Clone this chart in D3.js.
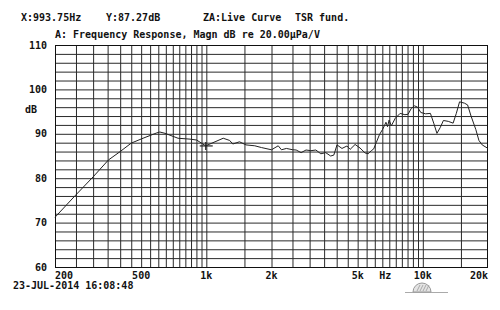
<!DOCTYPE html>
<html><head><meta charset="utf-8">
<script src="https://cdn.jsdelivr.net/npm/d3@7"></script>
<style>
html,body{margin:0;padding:0;background:#fff;}
text{font-family:"DejaVu Sans Mono","Liberation Mono",monospace;font-size:10px;fill:#111;}
</style></head>
<body>
<script>
// ---- data ----
const freq = [200, 247, 300, 353, 400, 450, 510, 590, 610, 645, 740, 841, 902, 949, 993, 1039, 1097, 1197, 1282, 1325, 1423, 1525, 1674, 1799, 2000, 2148, 2224, 2343, 2511, 2600, 2740, 2887, 3042, 3206, 3379, 3561, 3752, 3880, 4014, 4232, 4460, 4618, 4866, 5128, 5404, 5590, 5782, 5931, 6093, 6303, 6520, 6643, 6755, 6870, 6987, 7153, 7458, 7855, 8264, 8546, 8841, 9144, 9460, 9786, 10300, 10840, 11230, 11620, 12030, 12447, 13111, 13800, 14280, 14780, 15570, 16100, 16700, 17560, 18160, 18800, 20000];
const db = [71.2, 76.0, 80.3, 84.1, 86.0, 87.9, 89.0, 90.2, 90.4, 90.1, 89.0, 88.8, 88.6, 87.9, 87.3, 87.7, 88.2, 89.0, 88.5, 87.7, 88.2, 87.5, 87.3, 86.9, 86.4, 87.3, 86.4, 86.7, 86.4, 86.35, 85.75, 86.35, 86.2, 86.35, 85.5, 85.75, 85.0, 85.2, 87.5, 86.7, 87.25, 86.5, 87.6, 86.8, 85.7, 85.5, 86.2, 86.6, 88.0, 89.8, 91.0, 91.8, 92.6, 91.6, 93.1, 91.8, 93.5, 94.6, 94.3, 94.4, 95.7, 96.3, 96.0, 94.8, 94.5, 94.6, 92.4, 90.1, 91.4, 93.0, 92.8, 92.4, 94.6, 97.2, 96.9, 96.5, 94.0, 91.0, 88.5, 87.5, 86.7];
const xTickValues = [200, 500, 1000, 2000, 5000, 10000, 20000];
const xTickLabels = ["200", "500", "1k", "2k", "5k", "10k", "20k"];
const yTickValues = [60, 70, 80, 90, 100, 110];
const headerTexts = ["X:993.75Hz", "Y:87.27dB", "ZA:Live Curve", "TSR fund."];
const titleText = "A: Frequency Response, Magn dB re 20.00\u00B5Pa/V";
const dateText = "23-JUL-2014 16:08:48";
const cursor = {f: 993.75, v: 87.27};

// ---- layout ----
const W = 500, H = 310;
const L = 55, R = 488, T = 45, B = 267;
const svg = d3.select("body").append("svg").attr("width", W).attr("height", H);

const x = d3.scaleLog().domain([200, 20000]).range([L, R]);
const y = d3.scaleLinear().domain([60, 110]).range([B, T]);

const gridF = [].concat(d3.range(250, 1000, 50), d3.range(1000, 10000, 500), [10000, 15000]);
const gridV = d3.range(62, 110, 2);

// vertical grid
svg.append("g").attr("transform", `translate(0,${B})`)
  .call(d3.axisBottom(x).tickValues(gridF).tickSize(-(B - T)).tickFormat(""))
  .call(g => g.select(".domain").remove())
  .call(g => g.selectAll("line").attr("stroke", "#2a2a2a").attr("stroke-width", 1));
// horizontal grid
svg.append("g").attr("transform", `translate(${L},0)`)
  .call(d3.axisLeft(y).tickValues(gridV).tickSize(-(R - L)).tickFormat(""))
  .call(g => g.select(".domain").remove())
  .call(g => g.selectAll("line").attr("stroke", "#2a2a2a").attr("stroke-width", 1));

// frame
svg.append("rect").attr("x", L + 0.5).attr("y", T + 0.5).attr("width", R - L - 1).attr("height", B - T)
  .attr("fill", "none").attr("stroke", "#111").attr("stroke-width", 1);

// y labels
svg.append("g").selectAll("text").data(yTickValues).join("text")
  .attr("x", 47).attr("y", d => y(d) + 3.5).attr("text-anchor", "end")
  .attr("font-weight", "bold").text(d => d);
svg.append("text").attr("x", 25).attr("y", 113).attr("font-weight", "bold").text("dB");

// x labels
svg.append("g").selectAll("text").data(xTickValues).join("text")
  .attr("x", d => x(d)).attr("y", 279)
  .attr("text-anchor", (d, i) => i === 0 ? "start" : (i === xTickValues.length - 1 ? "end" : "middle"))
  .attr("font-weight", "bold").text((d, i) => xTickLabels[i]);
svg.append("text").attr("x", x(6700)).attr("y", 279).attr("text-anchor", "middle")
  .attr("font-weight", "bold").text("Hz");

// header
const hx = [21, 106, 203, 295];
svg.append("g").selectAll("text").data(headerTexts).join("text")
  .attr("x", (d, i) => hx[i]).attr("y", 21).attr("font-weight", "bold").text(d => d);
svg.append("text").attr("x", 55).attr("y", 38).attr("font-weight", "bold").text(titleText);
svg.append("text").attr("x", 13).attr("y", 289).attr("font-weight", "bold").text(dateText);

// curve
const pts = freq.map((f, i) => [f, db[i]]);
svg.append("path").datum(pts)
  .attr("fill", "none").attr("stroke", "#222").attr("stroke-width", 1)
  .attr("d", d3.line().x(d => x(d[0])).y(d => y(d[1])));

// cursor cross
const cx = x(cursor.f), cy = y(cursor.v);
svg.append("line").attr("x1", cx - 6).attr("x2", cx + 7).attr("y1", cy).attr("y2", cy).attr("stroke", "#222").attr("stroke-width", 1.2);
svg.append("line").attr("x1", cx).attr("x2", cx).attr("y1", cy - 4).attr("y2", cy + 4).attr("stroke", "#222").attr("stroke-width", 1.2);

// logo
const lg = svg.append("g").attr("transform", "translate(422,292)");
lg.append("line").attr("x1", -17).attr("x2", 26).attr("y1", 0.5).attr("y2", 0.5).attr("stroke", "#aaa");
lg.append("path").attr("d", d3.arc()({innerRadius: 0, outerRadius: 9, startAngle: -Math.PI / 2, endAngle: Math.PI / 2}))
  .attr("fill", "#e4e4e4").attr("stroke", "#999").attr("stroke-width", 1);
[-5, -2, 1, 4].forEach(d => lg.append("line").attr("x1", d).attr("x2", d + 3).attr("y1", -1).attr("y2", -7).attr("stroke", "#999").attr("stroke-width", 0.8));
</script>
</body></html>
